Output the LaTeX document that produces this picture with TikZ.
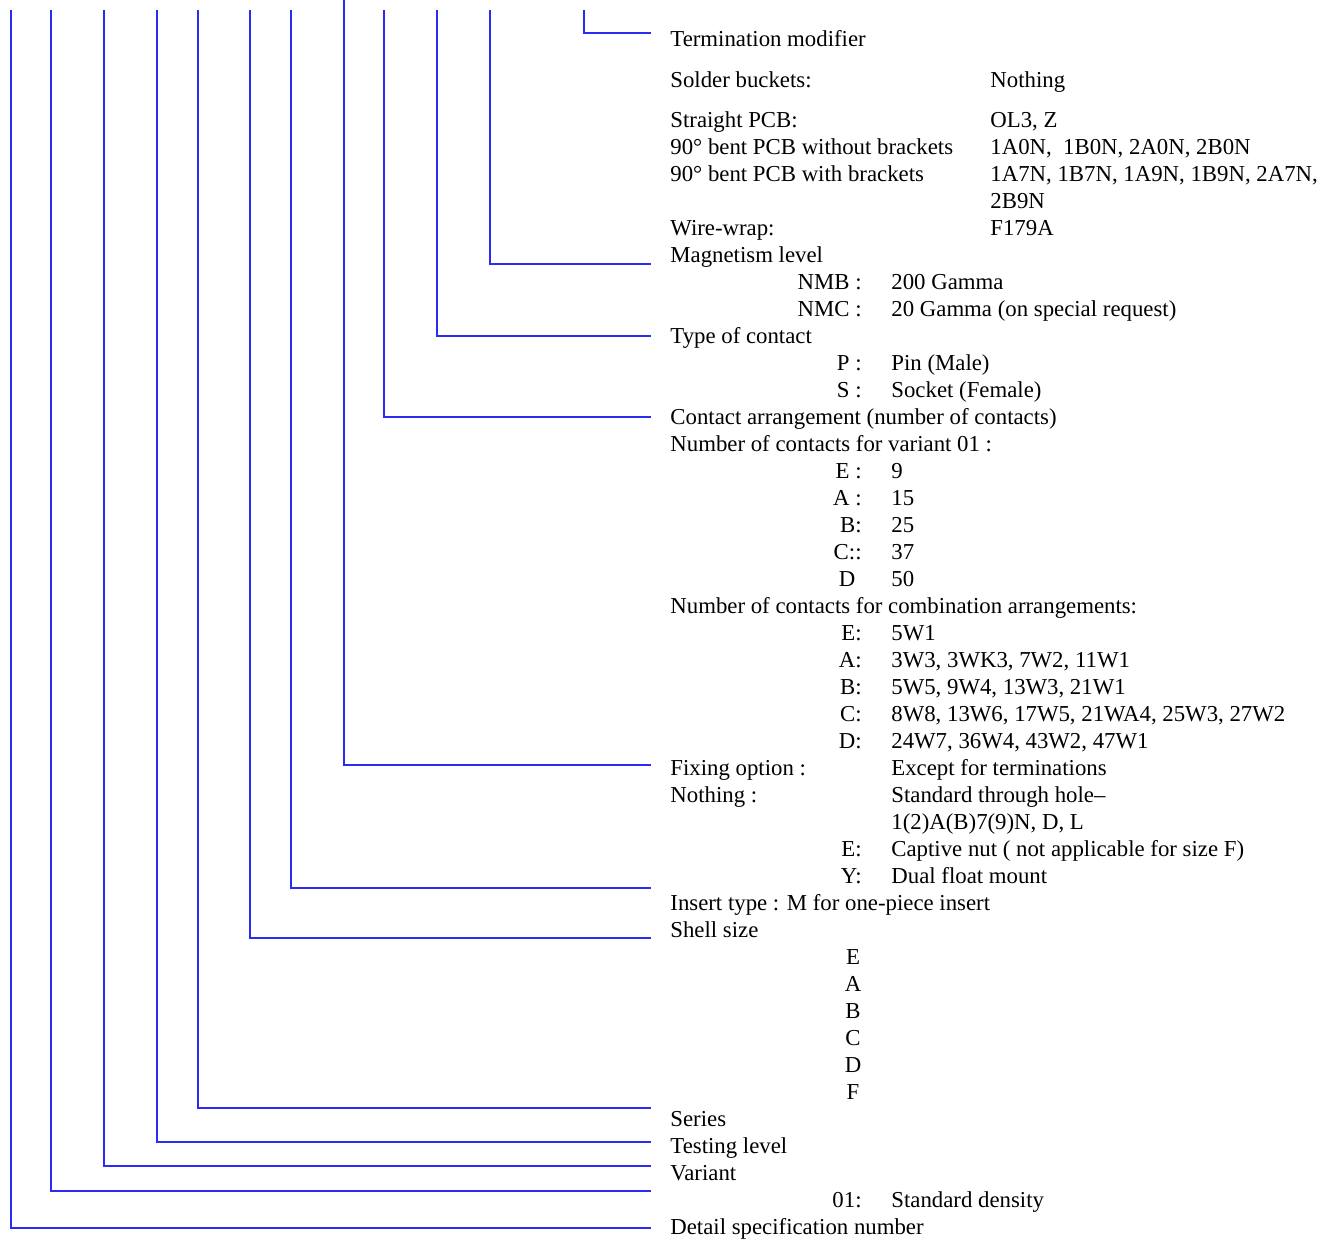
\documentclass[tikz,border=0pt]{standalone}
\usepackage{fontspec}
\setmainfont{Liberation Serif}
\usetikzlibrary{positioning}
\definecolor{LeadBlue}{HTML}{2B2BF2}
\tikzset{lead/.style={draw=LeadBlue,line width=.9pt},
 txt/.style={anchor=base west,inner sep=0pt,font=\fontsize{11.4}{13.5}\selectfont},
 key/.style={anchor=base east,inner sep=0pt,font=\fontsize{11.4}{13.5}\selectfont},
 size/.style={anchor=base,inner sep=0pt,font=\fontsize{11.4}{13.5}\selectfont}}

\begin{document}
\begin{tikzpicture}[x=.5pt,y=-.5pt]
\useasboundingbox (0,0) rectangle (1331,1239);
% leads: drop x / top / foot y
\foreach \x/\t/\y/\n in {584/10/33/term,490/10/264/magn,437/10/336/cont,384/10/417/arr,
 344/0/765/fix,291/10/888/ins,250/10/938/shell,198/10/1108/ser,157/10/1142/test,
 104/10/1166/var,51/10/1191/dens,11/10/1228/spec}
 {\coordinate (top-\n) at (\x,\t);\coordinate (foot-\n) at (651,\y);
  \draw[lead] (top-\n) |- (foot-\n);}
% termination block
\node[txt] (term) at (670,46) {Termination modifier};
\node[txt] (solder) at (670,87) {Solder buckets:};
\node[txt] (solder-v) at (990,87) {Nothing};
\foreach \k/\a/\b in {0/{Straight PCB:}/{OL3, Z},1/{90° bent PCB without brackets}/{1A0N,~ 1B0N, 2A0N, 2B0N},
 2/{90° bent PCB with brackets}/{1A7N, 1B7N, 1A9N, 1B9N, 2A7N,},3/{}/{2B9N},4/{Wire-wrap:}/{F179A}}
 {\node[txt] (tl\k) at (670,{127+27*\k}) {\a};
  \node[txt] (tr\k) at (990,{127+27*\k}) {\b};}
% headings
\foreach \k/\a in {5/{Magnetism level},8/{Type of contact},11/{Contact arrangement (number of contacts)},
 12/{Number of contacts for variant 01 :},18/{Number of contacts for combination arrangements:},
 24/{Fixing option :},25/{Nothing :},29/{Insert type : M for one-piece insert},30/{Shell size},
 37/{Series},38/{Testing level},39/{Variant},41/{Detail specification number}}
 {\node[txt] (h\k) at (670,{127+27*\k}) {\a};}
% keys and values
\foreach \k/\a/\b in {6/{NMB :}/{200 Gamma},7/{NMC :}/{20 Gamma (on special request)},
 9/{P :}/{Pin (Male)},10/{S :}/{Socket (Female)},13/{E :}/9,14/{A :}/15,15/{B:}/25,16/{C::}/37,
 17/{D\hphantom{:}}/50,19/{E:}/5W1,20/{A:}/{3W3, 3WK3, 7W2, 11W1},21/{B:}/{5W5, 9W4, 13W3, 21W1},
 22/{C:}/{8W8, 13W6, 17W5, 21WA4, 25W3, 27W2},23/{D:}/{24W7, 36W4, 43W2, 47W1},
 24/{}/{Except for terminations},25/{}/{Standard through hole--},26/{}/{1(2)A(B)7(9)N, D, L},
 27/{E:}/{Captive nut ( not applicable for size F)},28/{Y:}/{Dual float mount},40/{01:}/{Standard density}}
 {\node[key] (k\k) at (862,{127+27*\k}) {\a};
  \node[txt] (v\k) at (891,{127+27*\k}) {\b};}
% shell sizes
\foreach \k/\s in {31/E,32/A,33/B,34/C,35/D,36/F}
 {\node[size] (s\k) at (853,{127+27*\k}) {\s};}
\end{tikzpicture}
\end{document}
